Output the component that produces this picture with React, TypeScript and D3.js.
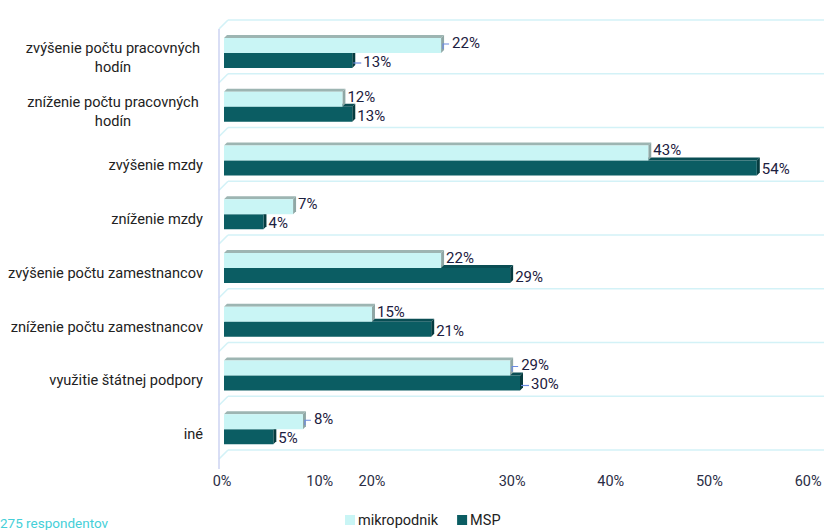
import { useEffect, useRef } from "react";
import * as d3 from "d3";

const categories = [
  "zvýšenie počtu pracovných hodín",
  "zníženie počtu pracovných hodín",
  "zvýšenie mzdy",
  "zníženie mzdy",
  "zvýšenie počtu zamestnancov",
  "zníženie počtu zamestnancov",
  "využitie štátnej podpory",
  "iné",
];
const seriesNames = ["mikropodnik", "MSP"];
const mikropodnik = [22, 12, 43, 7, 22, 15, 29, 8];
const msp = [13, 13, 54, 4, 29, 21, 30, 5];
// labels that carry a small leader line in the original
const leaderMikro = [true, false, false, false, false, false, true, true];
const leaderMsp = [true, false, false, false, false, false, true, false];
const tickLabels = ["0%", "10%", "20%", "30%", "40%", "50%", "60%"];
// where each tick label sits on the value axis (the source spaces them unevenly)
const tickAt = [-0.2, 9.7, 15, 29.2, 39.2, 49.2, 59.2];
const footnote = "275 respondentov";

const W = 824;
const H = 530;
const FONT = "Roboto, 'Noto Sans', sans-serif";

export default function App() {
  const svgRef = useRef<SVGSVGElement>(null);

  useEffect(() => {
    const svg = d3.select(svgRef.current).attr("width", W).attr("height", H);
    svg.selectAll("*").remove();

    const x = d3.scaleLinear().domain([0, 60]).range([224, 816]);
    const y = d3.scaleBand<string>().domain(categories).range([20, 450]);
    const depth = 3;
    const barH = 15;
    const wallX = 219;
    const slant = 9;

    // back wall grid
    const grid = svg.append("g");
    const gridYs = categories.map((c) => y(c)!).concat([450]);
    gridYs.forEach((gy) => {
      grid.append("line")
        .attr("x1", wallX + slant).attr("x2", W)
        .attr("y1", gy).attr("y2", gy)
        .attr("stroke", "#d3f2f7").attr("stroke-width", 1.6);
      grid.append("line")
        .attr("x1", wallX).attr("x2", wallX + slant)
        .attr("y1", gy + slant).attr("y2", gy)
        .attr("stroke", "#d3f2f7").attr("stroke-width", 1.6);
    });
    grid.append("line")
      .attr("x1", wallX).attr("x2", wallX)
      .attr("y1", 20 + slant).attr("y2", 450 + slant + 10)
      .attr("stroke", "#cdd3f2").attr("stroke-width", 1.5);

    const drawBar = (
      g: d3.Selection<SVGGElement, unknown, null, undefined>,
      v: number,
      top: number,
      front: string,
      topCol: string,
      sideCol: string
    ) => {
      const x0 = x(0);
      const x1 = x(v);
      g.append("polygon")
        .attr("points", [[x0, top], [x0 + depth, top - depth], [x1 + depth, top - depth], [x1, top]].map((p) => p.join(",")).join(" "))
        .attr("fill", topCol);
      g.append("polygon")
        .attr("points", [[x1, top], [x1 + depth, top - depth], [x1 + depth, top + barH - depth], [x1, top + barH]].map((p) => p.join(",")).join(" "))
        .attr("fill", sideCol);
      g.append("rect")
        .attr("x", x0).attr("y", top)
        .attr("width", x1 - x0).attr("height", barH)
        .attr("fill", front);
    };

    const bars = svg.append("g");
    categories.forEach((c, i) => {
      const b = y(c)!;
      // MSP first so the light bar sits in front of its top face
      drawBar(bars, msp[i], b + 33, "#0b5d63", "#0a4e54", "#063b3f");
      drawBar(bars, mikropodnik[i], b + 18, "#c9f5f5", "#9db5b2", "#8fa7a5");
    });

    const labels = svg.append("g")
      .attr("font-family", FONT).attr("font-size", 15).attr("fill", "#1c2040");
    const leaderCol = "#6b8ae0";
    categories.forEach((c, i) => {
      const b = y(c)!;
      const vm = mikropodnik[i];
      const vs = msp[i];
      const ym = b + 18 + 6;
      const ys = b + 33 + 10;
      labels.append("text")
        .attr("x", x(vm) + (leaderMikro[i] ? 11 : 5)).attr("y", ym)
        .attr("dominant-baseline", "middle")
        .text(vm + "%");
      labels.append("text")
        .attr("x", x(vs) + (leaderMsp[i] ? 11 : 5)).attr("y", ys)
        .attr("dominant-baseline", "middle")
        .text(vs + "%");
      if (leaderMikro[i]) {
        labels.append("path")
          .attr("d", `M${x(vm) + 2},${ym + 5}V${ym}H${x(vm) + 8}`)
          .attr("fill", "none").attr("stroke", leaderCol).attr("stroke-width", 1.2);
      }
      if (leaderMsp[i]) {
        labels.append("path")
          .attr("d", `M${x(vs) + 1},${ys}H${x(vs) + 9}`)
          .attr("fill", "none").attr("stroke", leaderCol).attr("stroke-width", 1.2);
      }
    });

    // category labels
    const cats = svg.append("g")
      .attr("font-family", FONT).attr("font-size", 14.6).attr("fill", "#222");
    categories.forEach((c) => {
      const cy = y(c)! + 39;
      if (c.length > 28) {
        const k = c.lastIndexOf(" ");
        const lines = [c.slice(0, k), c.slice(k + 1)];
        lines.forEach((ln, j) => {
          cats.append("text")
            .attr("x", 113).attr("y", cy + (j - 0.5) * 19)
            .attr("text-anchor", "middle").attr("dominant-baseline", "middle")
            .text(ln);
        });
      } else {
        cats.append("text")
          .attr("x", 203).attr("y", cy)
          .attr("text-anchor", "end").attr("dominant-baseline", "middle")
          .text(c);
      }
    });

    // value axis labels
    const ticks = svg.append("g")
      .attr("font-family", FONT).attr("font-size", 14.5).attr("fill", "#2a2d45");
    tickLabels.forEach((t, i) => {
      ticks.append("text")
        .attr("x", x(tickAt[i])).attr("y", 482)
        .attr("text-anchor", "middle").attr("dominant-baseline", "middle")
        .text(t);
    });

    // legend
    const legend = svg.append("g")
      .attr("font-family", FONT).attr("font-size", 14.5).attr("fill", "#222");
    const legendColors = ["#c9f5f5", "#0b5d63"];
    let lx = 345;
    seriesNames.forEach((s, i) => {
      legend.append("rect")
        .attr("x", lx).attr("y", 515).attr("width", 10).attr("height", 10)
        .attr("fill", legendColors[i]);
      const t = legend.append("text")
        .attr("x", lx + 13).attr("y", 521)
        .attr("dominant-baseline", "middle")
        .text(s);
      const w = (t.node() as SVGTextElement).getComputedTextLength();
      lx = lx + 13 + w + 19;
    });

    svg.append("text")
      .attr("x", 0).attr("y", 524)
      .attr("font-family", FONT).attr("font-size", 13.5).attr("fill", "#45cfd8")
      .attr("dominant-baseline", "middle")
      .text(footnote);
  }, []);

  return (
    <div style={{ position: "fixed", left: 0, top: 0, background: "#fff" }}>
      <svg ref={svgRef} style={{ display: "block" }}></svg>
    </div>
  );
}
